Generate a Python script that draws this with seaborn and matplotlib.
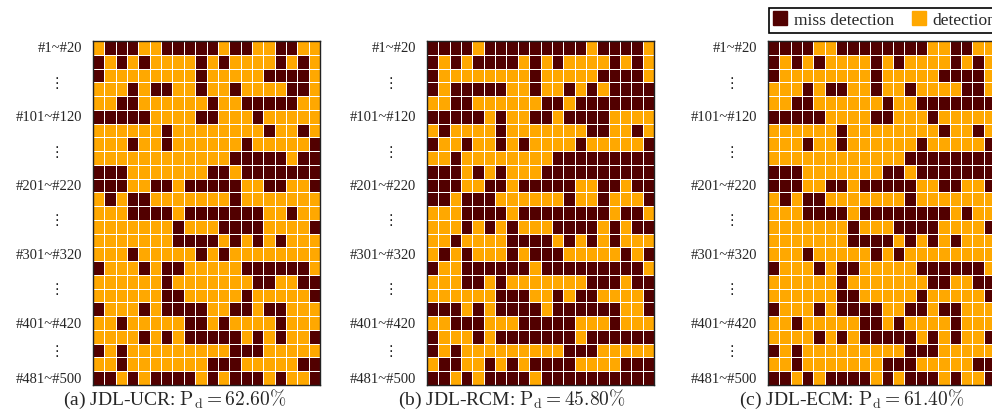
import numpy as np
import matplotlib
matplotlib.use("Agg")
import matplotlib.pyplot as plt
from matplotlib.colors import ListedColormap
from matplotlib.lines import Line2D
import seaborn as sns

# 25 groups of 20 targets per method; '1' = miss detection, '0' = detection
ucr_rows = [
    "01110011111011001100",
    "10101000010100001010",
    "10000000010000011110",
    "00010110010010000110",
    "00110000001001111100",
    "11111000011000100000",
    "00000010000000010010",
    "00010010000001000001",
    "00000000000011111011",
    "11100000001101111111",
    "11100110111110011001",
    "01011000000010000000",
    "00011110111111100100",
    "00000001000111100001",
    "00000001111010101000",
    "00010000010100000000",
    "10001011000001111110",
    "00000010000000110011",
    "00000011000001000001",
    "10001011110011011000",
    "00100000110100001000",
    "00001010111110101001",
    "10100000000011100000",
    "00100000001110000011",
    "11010111101011101001",
]

rcm_rows = [
    "11110111111111011110",
    "10101111010100001010",
    "10000000010000011110",
    "10111110010010101111",
    "00110000001101111111",
    "11111010011011110000",
    "01000010000000110010",
    "10010010100001000001",
    "00100000000111111111",
    "11101010001111111111",
    "11100110111110011011",
    "11011100000010010001",
    "00011110111111110110",
    "00010101000111101011",
    "00100001111010101000",
    "01010001011100000101",
    "10011111101111111110",
    "00011010000000111011",
    "00000011100101100001",
    "11101011110111111001",
    "00111000111110001000",
    "10001011111110111111",
    "10100000000011100000",
    "01100101011110000111",
    "11010111101111111111",
]

ecm_rows = [
    "11110011111111001100",
    "10101000010100001010",
    "10000000010000011110",
    "00010110010010000110",
    "00110000001001111111",
    "11111000011000100000",
    "00000010000000010010",
    "00010010000001000001",
    "00000000000011111111",
    "11100000001101111111",
    "11100110111110011001",
    "01011000000010000000",
    "00011110111111110100",
    "00000001000111100001",
    "00000001111010101000",
    "00010000010100000000",
    "10001011000001111110",
    "00000010000000110011",
    "00000011000001000001",
    "10001011110011011000",
    "00100000110100001000",
    "00001010111110101001",
    "10100000000011100000",
    "00100000001110000011",
    "11010111101011101001",
]

panel_tags = ["(a)", "(b)", "(c)"]
method_names = ["JDL-UCR", "JDL-RCM", "JDL-ECM"]
pd_values = ["62.60", "45.80", "61.40"]

group_labels = ["#1~#20", "#101~#120", "#201~#220", "#301~#320", "#401~#420", "#481~#500"]
group_rows = [0, 5, 10, 15, 20, 24]
dots_rows = [3.0, 8.0, 13.0, 18.0, 22.5]

legend_labels = ["miss detection", "detection"]

miss_color = "#520000"
det_color = "#ffa800"

sns.set_theme(style="white")
plt.rcParams["font.family"] = ["Liberation Serif", "DejaVu Sans"]
plt.rcParams["mathtext.fontset"] = "cm"

W, H = 992, 410
fig = plt.figure(figsize=(W / 100, H / 100), dpi=100)

panel_left_px = [93, 427, 768]
caption_x_px = [175, 512, 852]
ax_w_px, top_px, bottom_px = 227, 42, 386

cmap = ListedColormap([det_color, miss_color])

for i, rows in enumerate([ucr_rows, rcm_rows, ecm_rows]):
    grid = np.array([[int(c) for c in r] for r in rows])
    ax = fig.add_axes([panel_left_px[i] / W, 1 - bottom_px / H,
                       ax_w_px / W, (bottom_px - top_px) / H])
    sns.heatmap(grid, cmap=cmap, vmin=0, vmax=1, cbar=False,
                linewidths=0.6, linecolor="white", ax=ax)
    for sp in ax.spines.values():
        sp.set_visible(True)
        sp.set_color("#222222")
        sp.set_linewidth(1.0)

    ax.set_xticks([])
    ax.set_yticks([r + 0.5 for r in group_rows])
    ax.set_yticklabels(group_labels, fontsize=10.5, rotation=0)
    ax.tick_params(axis="y", which="major", length=0, pad=8)
    ax.set_xticks([5, 10, 15], minor=True)
    ax.set_yticks([5, 10, 15, 20], minor=True)
    ax.tick_params(which="minor", direction="in", length=3, width=0.8,
                   color="#222222", left=True, right=True, top=True, bottom=True)
    for y in dots_rows:
        ax.text(-0.159, y, "\u22ee", transform=ax.get_yaxis_transform(),
                ha="center", va="center", fontsize=10.5,
                family=["DejaVu Sans"])
    ax.set_xlabel("")
    ax.set_ylabel("")

    fig.text(caption_x_px[i] / W, 1 - 399 / H,
             f"{panel_tags[i]} {method_names[i]}: $\\mathrm{{P_d}} = {pd_values[i]}\\%$",
             ha="center", va="center", fontsize=14)

handles = [Line2D([], [], marker="s", ls="", color=miss_color, markersize=9.5),
           Line2D([], [], marker="s", ls="", color=det_color, markersize=9.5)]
leg = fig.legend(handles, legend_labels, loc="upper left",
                 bbox_to_anchor=(769 / W, 1 - 9 / H), ncol=2, frameon=True,
                 fancybox=False, edgecolor="black", framealpha=1,
                 borderpad=0.25, handlelength=0.8, handletextpad=0.4,
                 columnspacing=1.0, fontsize=12.5, borderaxespad=0)
leg.get_frame().set_linewidth(1.2)

fig.savefig("out.png", dpi=100)
